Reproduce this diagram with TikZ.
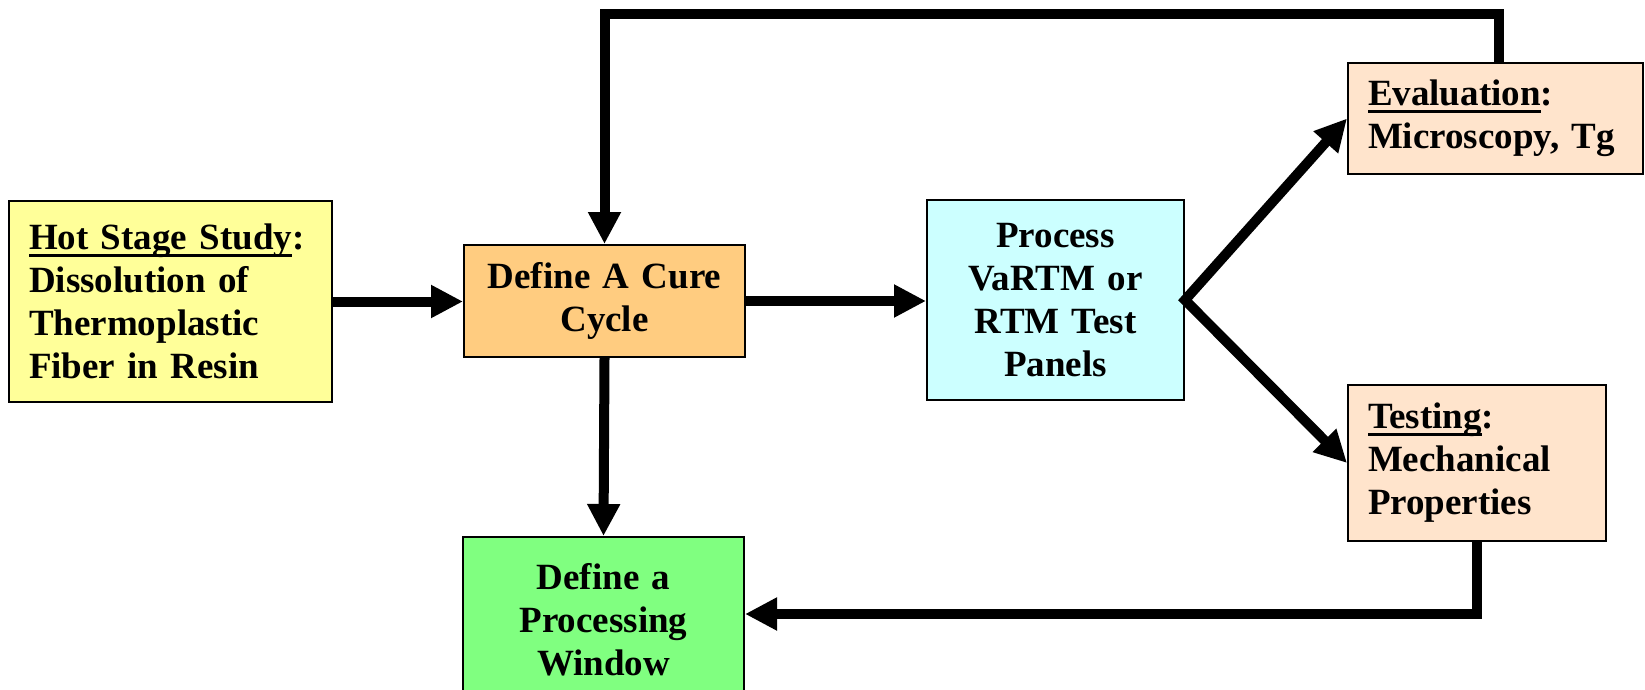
\documentclass[tikz,border=0pt]{standalone}
\usepackage{fontspec}
\setmainfont{Liberation Serif}
\usetikzlibrary{arrows.meta}
\definecolor{cyellow}{HTML}{FFFF99}
\definecolor{corange}{HTML}{FFCC80}
\definecolor{ccyan}{HTML}{CCFFFF}
\definecolor{cpeach}{HTML}{FFE4CC}
\definecolor{cgreen}{HTML}{80FF80}
\newlength\ulwidth
\newcommand\myul[1]{\settowidth{\ulwidth}{#1}\rlap{\rule[-7pt]{\ulwidth}{3pt}}#1}
\tikzset{
  box/.style={draw=black, line width=2pt, inner ysep=0pt, anchor=north west,
    font=\fontsize{37}{43}\selectfont\bfseries},
  lbox/.style={box, inner xsep=20pt, align=left},
  cbox/.style={box, inner xsep=10pt, align=center},
  arr/.style={line width=10pt, -{Triangle[width=31pt,length=32pt]}},
}
\begin{document}
\begin{tikzpicture}[x=1pt,y=-1pt]
\useasboundingbox (0,0) rectangle (1645,690);
\node[lbox, fill=cyellow, text width=283pt, minimum width=323pt, minimum height=201pt] (hot) at (8,200)
  {\myul{Hot Stage Study}:\\Dissolution of\\Thermoplastic\\Fiber in Resin};
\node[cbox, fill=corange, text width=261pt, minimum width=281pt, minimum height=112pt] (cure) at (463,244)
  {Define A Cure\\Cycle};
\node[cbox, fill=ccyan, text width=237pt, minimum width=257pt, minimum height=200pt] (proc) at (926,199)
  {Process\\VaRTM or\\RTM Test\\Panels};
\node[lbox, fill=cpeach, text width=255pt, minimum width=295pt, minimum height=111pt] (eval) at (1347,62)
  {\myul{Evaluation}:\\Microscopy, Tg};
\node[lbox, fill=cpeach, text width=218pt, minimum width=258pt, minimum height=156pt] (test) at (1347,384)
  {\myul{Testing}:\\Mechanical\\Properties};
\node[cbox, fill=cgreen, text width=261pt, minimum width=281pt, minimum height=166pt] (win) at (462,536)
  {Define a\\Processing\\Window};
\coordinate (split) at (proc.east);
\coordinate (top) at (0,14);
\coordinate (bot) at (0,614);
\draw[arr] (hot.east) -- (hot.east -| cure.west);
\draw[arr] (cure.east) -- (cure.east -| proc.west);
\draw[arr] (cure.south) -- (win.north);
\draw[line width=10pt, miter limit=10, {Triangle[width=31pt,length=32pt]}-{Triangle[width=31pt,length=32pt]}]
  (eval.west) -- (split) -- (test.west);
\draw[arr] ([xshift=3pt]eval.north) -- ([xshift=3pt]eval.north |- top) -- (cure.north |- top) -- (cure.north);
\draw[arr] (test.south) -- (test.south |- bot) -- (win.east |- bot);
\end{tikzpicture}
\end{document}
